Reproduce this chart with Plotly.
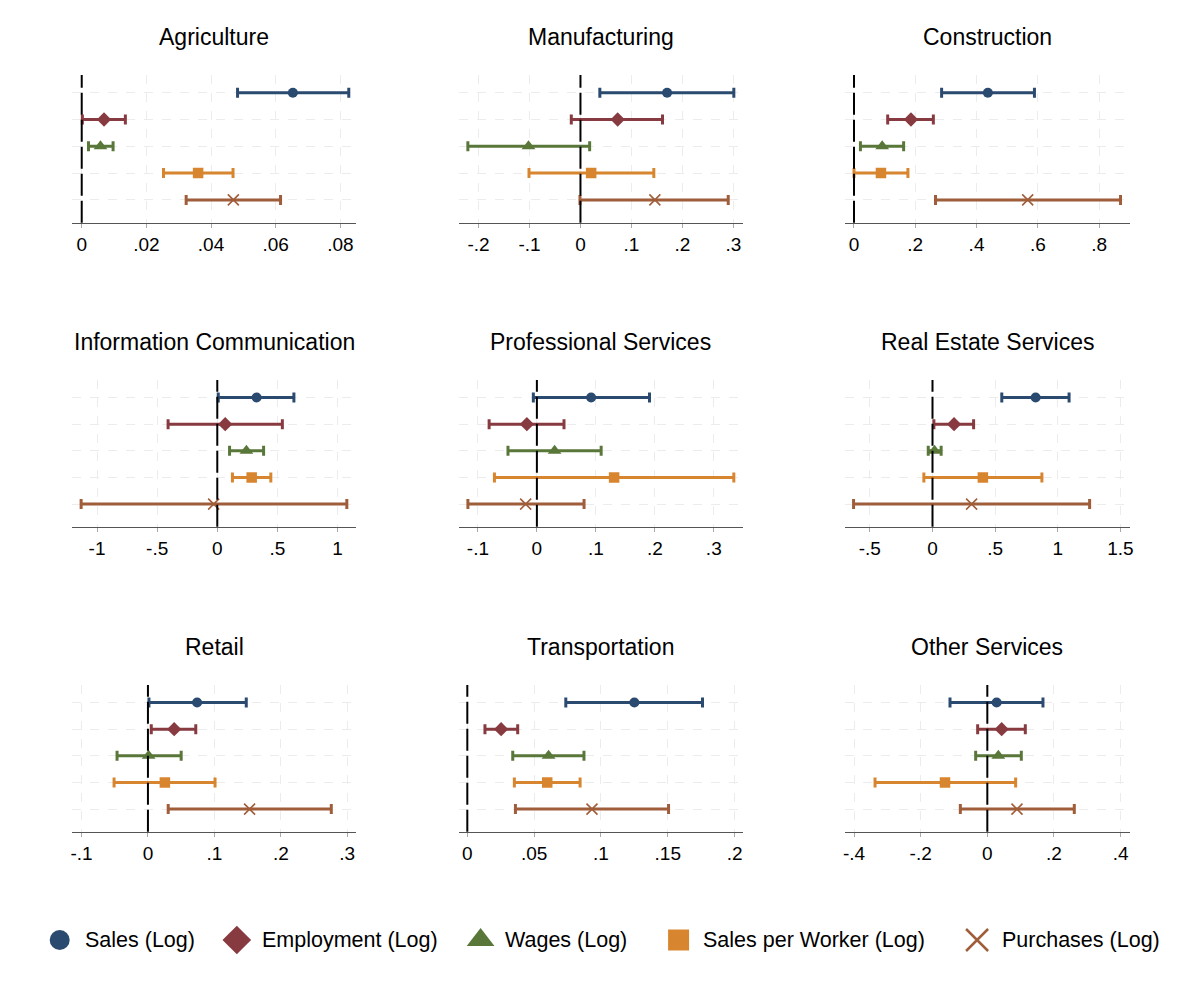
import plotly.graph_objects as go

# sectors, one panel each (row by row)
sectors = ["Agriculture", "Manufacturing", "Construction",
           "Information Communication", "Professional Services", "Real Estate Services",
           "Retail", "Transportation", "Other Services"]

# point estimates and 95% CI bounds, one value per sector
sales_b = [0.0653, 0.170, 0.437, 0.327, 0.092, 0.823, 0.074, 0.125, 0.028]
sales_lo = [0.0482, 0.038, 0.286, 0.008, -0.006, 0.553, 0.0015, 0.0737, -0.112]
sales_hi = [0.0826, 0.301, 0.589, 0.637, 0.191, 1.090, 0.148, 0.176, 0.167]

emp_b = [0.0069, 0.073, 0.186, 0.066, -0.017, 0.172, 0.0395, 0.0253, 0.043]
emp_lo = [0.0002, -0.018, 0.110, -0.409, -0.081, 0.011, 0.005, 0.0132, -0.029]
emp_hi = [0.0135, 0.161, 0.259, 0.541, 0.046, 0.328, 0.072, 0.0377, 0.114]

wage_b = [0.0058, -0.102, 0.092, 0.242, 0.030, 0.016, 0.001, 0.0608, 0.033]
wage_lo = [0.0021, -0.221, 0.021, 0.102, -0.049, -0.034, -0.0465, 0.034, -0.035]
wage_hi = [0.0097, 0.018, 0.162, 0.385, 0.109, 0.069, 0.050, 0.0873, 0.102]

spw_b = [0.036, 0.021, 0.088, 0.286, 0.131, 0.402, 0.0255, 0.0598, -0.127]
spw_lo = [0.0253, -0.101, 0.000, 0.126, -0.072, -0.069, -0.051, 0.0352, -0.337]
spw_hi = [0.0468, 0.144, 0.176, 0.445, 0.334, 0.873, 0.101, 0.0844, 0.085]

purch_b = [0.0469, 0.146, 0.567, -0.030, -0.019, 0.312, 0.153, 0.0933, 0.089]
purch_lo = [0.0323, -0.001, 0.266, -1.132, -0.117, -0.630, 0.0305, 0.036, -0.081]
purch_hi = [0.0615, 0.290, 0.870, 1.077, 0.080, 1.254, 0.276, 0.1506, 0.261]

# x tick values per panel
ticks = [
    [0, 0.02, 0.04, 0.06, 0.08],
    [-0.2, -0.1, 0, 0.1, 0.2, 0.3],
    [0, 0.2, 0.4, 0.6, 0.8],
    [-1, -0.5, 0, 0.5, 1],
    [-0.1, 0, 0.1, 0.2, 0.3],
    [-0.5, 0, 0.5, 1, 1.5],
    [-0.1, 0, 0.1, 0.2, 0.3],
    [0, 0.05, 0.1, 0.15, 0.2],
    [-0.4, -0.2, 0, 0.2, 0.4],
]

# axis ranges
xranges = [
    [-0.0029, 0.0849], [-0.239, 0.3195], [-0.0292, 0.8996],
    [-1.205, 1.155], [-0.1326, 0.350], [-0.698, 1.573],
    [-0.1138, 0.3135], [-0.00645, 0.2065], [-0.427, 0.427],
]


def stata_label(v):
    s = f"{v:g}"
    return s.replace("0.", ".") if abs(v) < 1 else s


series = [
    dict(name="Sales (Log)", b=sales_b, lo=sales_lo, hi=sales_hi, color="#2b4a70",
         symbol="circle", size=10, lsize=20),
    dict(name="Employment (Log)", b=emp_b, lo=emp_lo, hi=emp_hi, color="#873a3f",
         symbol="diamond", size=11, lsize=22),
    dict(name="Wages (Log)", b=wage_b, lo=wage_lo, hi=wage_hi, color="#5a773a",
         symbol="triangle-up", size=12, lsize=24),
    dict(name="Sales per Worker (Log)", b=spw_b, lo=spw_lo, hi=spw_hi, color="#d8852f",
         symbol="square", size=10.5, lsize=21),
    dict(name="Purchases (Log)", b=purch_b, lo=purch_lo, hi=purch_hi, color="#a05d3a",
         symbol="x-thin", size=11, lsize=22),
]
rows_y = [5, 4, 3, 2, 1]

W, H = 1194, 982
col_px = [(70.7, 356), (459, 745), (847.3, 1133.3)]
row_px = [(75, 222.7), (380, 526.7), (685, 831.7)]
legend_px = [58, 236, 481, 680, 980]   # symbol centres of the legend keys
legend_y = 940

fig = go.Figure()
font = "Liberation Sans, Arial, Helvetica, sans-serif"

for i, sector in enumerate(sectors):
    r, c = divmod(i, 3)
    n = "" if i == 0 else str(i + 1)
    for s, yv in zip(series, rows_y):
        mk = dict(symbol=s["symbol"], size=s["size"], color=s["color"])
        if s["symbol"] == "x-thin":
            mk["line"] = dict(color=s["color"], width=1.6)
        fig.add_trace(go.Scatter(
            x=[s["b"][i]], y=[yv], mode="markers", marker=mk,
            error_x=dict(type="data", symmetric=False,
                         array=[s["hi"][i] - s["b"][i]],
                         arrayminus=[s["b"][i] - s["lo"][i]],
                         color=s["color"], thickness=3, width=5),
            xaxis="x" + n, yaxis="y" + n, showlegend=False,
            hoverinfo="skip"))
    x0, x1 = col_px[c]
    y0, y1 = row_px[r]
    fig.update_layout({
        "xaxis" + n: dict(
            domain=[x0 / W, x1 / W], anchor="y" + n, range=xranges[i],
            tickvals=ticks[i], ticktext=[stata_label(v) for v in ticks[i]],
            showline=True, linecolor="#555555", linewidth=1.3,
            ticks="outside", ticklen=4, tickcolor="#aaaaaa", tickwidth=1,
            showgrid=True, gridcolor="#ececec", griddash="dash", gridwidth=1.2,
            zeroline=False, tickfont=dict(size=19, color="black", family=font)),
        "yaxis" + n: dict(
            domain=[1 - y1 / H, 1 - y0 / H], anchor="x" + n, range=[0.15, 5.66],
            tickvals=rows_y, showticklabels=False, showline=False,
            showgrid=True, gridcolor="#ececec", griddash="dash", gridwidth=1.2,
            zeroline=False),
    })
    fig.add_shape(type="line", xref="x" + n, yref="y" + n + " domain",
                  x0=0, x1=0, y0=0, y1=1, layer="above",
                  line=dict(color="black", width=2, dash="22px,5px"))
    fig.add_annotation(text=sector, x=(x0 + x1) / 2 / W, y=1 - (y0 - 38.5) / H,
                       xref="paper", yref="paper", xanchor="center", yanchor="middle",
                       showarrow=False,
                       font=dict(size=23, color="black", family=font))

# legend drawn on a hidden pixel-scaled axis so keys can be as large as in the original
for s, lx in zip(series, legend_px):
    mk = dict(symbol=s["symbol"], size=s["lsize"], color=s["color"])
    if s["symbol"] == "x-thin":
        mk["line"] = dict(color=s["color"], width=2.5)
    fig.add_trace(go.Scatter(x=[lx], y=[0.5], mode="markers", marker=mk,
                             xaxis="x10", yaxis="y10", showlegend=False, hoverinfo="skip"))
    fig.add_annotation(text=s["name"], x=lx + 23, y=1 - legend_y / H, xref="x10", yref="paper",
                       xanchor="left", yanchor="middle", showarrow=False,
                       font=dict(size=21.5, color="black", family=font))

fig.update_layout(
    xaxis10=dict(domain=[0, 1], range=[0, W], visible=False, anchor="y10"),
    yaxis10=dict(domain=[1 - (legend_y + 20) / H, 1 - (legend_y - 20) / H], range=[0, 1],
                 visible=False, anchor="x10"),
    width=W, height=H,
    margin=dict(l=0, r=0, t=0, b=0),
    paper_bgcolor="white", plot_bgcolor="white",
    font=dict(family=font, color="black"),
    showlegend=False,
)

fig.write_html("out.html", config={"displayModeBar": False},
               post_script="document.body.style.margin='0';")
